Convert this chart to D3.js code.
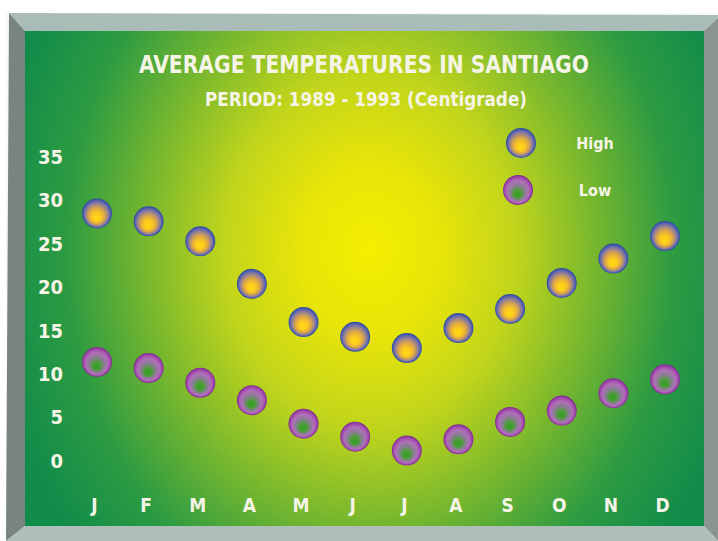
<!DOCTYPE html>
<html>
<head>
<meta charset="utf-8">
<script src="https://cdn.jsdelivr.net/npm/d3@7"></script>
<style>
  html, body { margin: 0; padding: 0; background: #fff; }
  svg { display: block; }
  .lbl { font-family: "Liberation Sans Narrow", "DejaVu Sans Condensed", "Open Sans", sans-serif; font-weight: bold; fill: #f6f4e6; }
</style>
</head>
<body>
<div id="chart"></div>
<script>
// data
const months = ['J', 'F', 'M', 'A', 'M', 'J', 'J', 'A', 'S', 'O', 'N', 'D'];
const highTemps = [28.5, 27.6, 25.3, 20.4, 16.0, 14.3, 13.0, 15.3, 17.5, 20.5, 23.3, 25.9];
const lowTemps = [11.4, 10.7, 9.0, 7.0, 4.3, 2.8, 1.2, 2.5, 4.5, 5.8, 7.8, 9.4];
const yTicks = [0, 5, 10, 15, 20, 25, 30, 35];
const seriesNames = ['High', 'Low'];

const W = 718, H = 541;
const panel = { left: 25, top: 31, right: 704, bottom: 526 };

const svg = d3.select('#chart').append('svg')
  .attr('width', W)
  .attr('height', H);

const defs = svg.append('defs');

// background glow
const bg = defs.append('radialGradient')
  .attr('id', 'bgGlow')
  .attr('gradientUnits', 'userSpaceOnUse')
  .attr('cx', 370).attr('cy', 250).attr('r', 400)
  .attr('gradientTransform', 'translate(370,250) scale(0.95,1.15) translate(-370,-250)');
[[0, '#fbf600'], [0.18, '#f0ec08'], [0.38, '#c8dc1c'], [0.6, '#78bc30'], [0.8, '#2ea044'], [1, '#12904c']]
  .forEach(s => bg.append('stop').attr('offset', s[0]).attr('stop-color', s[1]));

const hiGrad = defs.append('radialGradient')
  .attr('id', 'hiGrad')
  .attr('cx', 0.5).attr('cy', 0.5).attr('r', 0.5)
  .attr('fx', 0.48).attr('fy', 0.68);
[[0, '#ffdc10'], [0.3, '#fcc820'], [0.55, '#d8a44c'], [0.78, '#8a7aa0'], [0.92, '#4a5cb0'], [1, '#2c4a9c']]
  .forEach(s => hiGrad.append('stop').attr('offset', s[0]).attr('stop-color', s[1]));

const loGrad = defs.append('radialGradient')
  .attr('id', 'loGrad')
  .attr('cx', 0.5).attr('cy', 0.5).attr('r', 0.5)
  .attr('fx', 0.48).attr('fy', 0.68);
[[0, '#2e9e22'], [0.25, '#4a9e36'], [0.5, '#8c7c96'], [0.72, '#b070b8'], [0.9, '#a044ac'], [1, '#7a2c88']]
  .forEach(s => loGrad.append('stop').attr('offset', s[0]).attr('stop-color', s[1]));

// grain
const grain = defs.append('filter').attr('id', 'grain')
  .attr('x', 0).attr('y', 0).attr('width', '100%').attr('height', '100%');
grain.append('feTurbulence').attr('type', 'fractalNoise').attr('baseFrequency', 0.9).attr('numOctaves', 2).attr('seed', 3);
grain.append('feColorMatrix').attr('type', 'matrix')
  .attr('values', '0 0 0 0 0  0 0 0 0 0  0 0 0 0 0  0 0 0 0.06 0');

// bevelled frame
svg.append('polygon') // top
  .attr('points', `9,13 718,15 718,18 ${panel.right},${panel.top} ${panel.left},${panel.top}`)
  .attr('fill', '#afc2bd');
svg.append('polygon') // left
  .attr('points', `9,13 ${panel.left},${panel.top} ${panel.left},${panel.bottom} 6,541`)
  .attr('fill', '#7c8886');
svg.append('polygon') // right
  .attr('points', `718,18 718,541 ${panel.right},${panel.bottom} ${panel.right},${panel.top}`)
  .attr('fill', '#8f9896');
svg.append('polygon') // bottom
  .attr('points', `${panel.left},${panel.bottom} ${panel.right},${panel.bottom} 718,541 6,541`)
  .attr('fill', '#b4c4bf');

svg.append('rect')
  .attr('x', panel.left).attr('y', panel.top)
  .attr('width', panel.right - panel.left).attr('height', panel.bottom - panel.top)
  .attr('fill', 'url(#bgGlow)');
svg.append('rect')
  .attr('x', 6).attr('y', 13).attr('width', W - 6).attr('height', H - 13)
  .attr('filter', 'url(#grain)');

// titles
svg.append('text').attr('class', 'lbl')
  .attr('x', 364).attr('y', 73)
  .attr('text-anchor', 'middle')
  .attr('font-size', 25)
  .attr('textLength', 450).attr('lengthAdjust', 'spacingAndGlyphs')
  .text('AVERAGE TEMPERATURES IN SANTIAGO');
svg.append('text').attr('class', 'lbl')
  .attr('x', 366).attr('y', 106)
  .attr('text-anchor', 'middle')
  .attr('font-size', 19)
  .attr('textLength', 322).attr('lengthAdjust', 'spacingAndGlyphs')
  .text('PERIOD: 1989 - 1993 (Centigrade)');

// scales
const x = d3.scalePoint().domain(d3.range(months.length)).range([97, 665]);
const y = d3.scaleLinear().domain([0, 35]).range([461, 157]);

// y axis labels
const yAxis = svg.append('g')
  .attr('transform', 'translate(63,0)')
  .call(d3.axisLeft(y).tickValues(yTicks).tickSize(0).tickPadding(0));
yAxis.select('.domain').remove();
yAxis.selectAll('text')
  .attr('class', 'lbl')
  .attr('font-size', 20)
  .attr('fill', null)
  .attr('font-family', null);

// month labels
const xAxis = svg.append('g')
  .attr('transform', 'translate(-3,498)')
  .call(d3.axisBottom(x).tickFormat(i => months[i]).tickSize(0).tickPadding(0));
xAxis.select('.domain').remove();
xAxis.selectAll('text')
  .attr('class', 'lbl')
  .attr('font-size', 19)
  .attr('fill', null)
  .attr('font-family', null);

// bubbles
const R = 15;
svg.append('g').selectAll('circle')
  .data(highTemps)
  .join('circle')
  .attr('cx', (d, i) => x(i))
  .attr('cy', d => y(d))
  .attr('r', R)
  .attr('fill', 'url(#hiGrad)');

svg.append('g').selectAll('circle')
  .data(lowTemps)
  .join('circle')
  .attr('cx', (d, i) => x(i))
  .attr('cy', d => y(d))
  .attr('r', R)
  .attr('fill', 'url(#loGrad)');

// legend
const legend = svg.append('g').selectAll('g')
  .data(seriesNames)
  .join('g')
  .attr('transform', (d, i) => `translate(${521 - i * 3},${143 + i * 47})`);
legend.append('circle')
  .attr('r', R)
  .attr('fill', (d, i) => i === 0 ? 'url(#hiGrad)' : 'url(#loGrad)');
legend.append('text').attr('class', 'lbl')
  .attr('x', (d, i) => 74 + i * 3).attr('y', 6)
  .attr('text-anchor', 'middle')
  .attr('font-size', 16)
  .text(d => d);
</script>
</body>
</html>
